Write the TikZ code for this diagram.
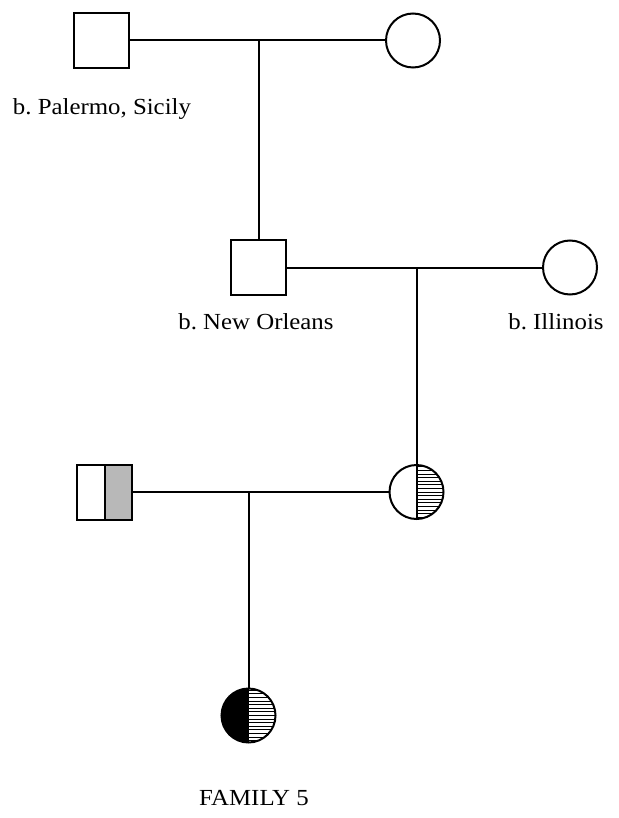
\documentclass[tikz,border=0pt]{standalone}
\usepackage{fontspec}
\setmainfont{Liberation Serif}[FakeStretch=1.08]
\frenchspacing
\begin{document}
\begin{tikzpicture}[x=1pt,y=-1pt,
  ln/.style={line width=2pt},
  male/.style={draw,line width=2pt,rectangle,minimum size=55pt,inner sep=0pt},
  female/.style={draw,line width=2pt,circle,minimum size=54pt,inner sep=0pt},
  lbl/.style={anchor=base,inner sep=0pt,font=\fontsize{23}{26}\selectfont\frenchspacing},
  hatchR/.style={path picture={
      \foreach \k in {-7,...,7}
        \draw[line width=0.9pt] ([yshift=\k*3.6pt]path picture bounding box.center) -- ++(30pt,0);
      \draw[line width=2pt] (path picture bounding box.north) -- (path picture bounding box.south);}},
  blackhatch/.style={path picture={
      \fill (path picture bounding box.north west) rectangle (path picture bounding box.south);
      \foreach \k in {-7,...,7}
        \draw[line width=0.9pt] ([yshift=\k*3.6pt]path picture bounding box.center) -- ++(30pt,0);}},
  stippleR/.style={path picture={
      \fill[black!28] (path picture bounding box.north) rectangle (path picture bounding box.south east);
      \draw[line width=2pt] (path picture bounding box.north) -- (path picture bounding box.south);}}
]
\useasboundingbox (0,0) rectangle (618,818);
% generation I
\node[male] (sq1) at (101.5,40.5) {};
\node[female] (c1) at (413,40.5) {};
% generation II
\node[male] (sq2) at (258.5,267.5) {};
\node[female] (c2) at (570,267.5) {};
% generation III
\node[male,stippleR] (sq3) at (104.5,492) {};
\node[female,hatchR] (c3) at (416.5,492) {};
% generation IV
\node[female,blackhatch] (c4) at (248.5,715.5) {};
% connectors
\draw[ln] (sq1.east) -- (c1.west);
\draw[ln] (sq2.north) -- (sq2.north |- sq1.east);
\draw[ln] (sq2.east) -- (c2.west);
\draw[ln] (c3.north) -- (c3.north |- sq2.east);
\draw[ln] (sq3.east) -- (c3.west);
\draw[ln] (c4.north) -- (c4.north |- sq3.east);
% labels
\node[lbl] (l1) at (102,115) {b. Palermo, Sicily};
\node[lbl] (l2) at (256,329) {b. New Orleans};
\node[lbl] (l3) at (556,329) {b. Illinois};
\node[lbl] (l4) at (254,805) {FAMILY 5};
\end{tikzpicture}
\end{document}
